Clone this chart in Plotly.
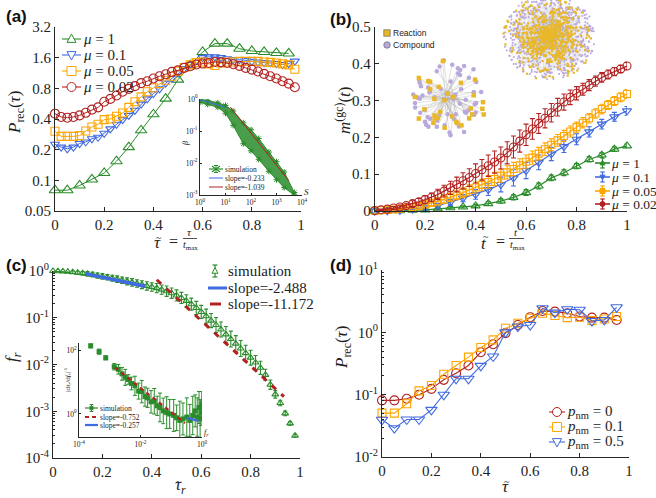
import math
import plotly.graph_objects as go

W, H = 656, 498

# ======================= DATA =======================
# ---- panel (a): P_rec(tau) for different mu
a_tau_20 = [0.0, 0.05, 0.10, 0.15, 0.20, 0.25, 0.30, 0.35, 0.40, 0.45,
            0.50, 0.55, 0.60, 0.65, 0.70, 0.75, 0.80, 0.85, 0.90, 0.95]
a_tau_40 = [0.0, 0.025, 0.05, 0.075, 0.10, 0.125, 0.15, 0.175, 0.20, 0.225,
            0.25, 0.275, 0.30, 0.325, 0.35, 0.375, 0.40, 0.425, 0.45, 0.475,
            0.50, 0.525, 0.55, 0.575, 0.60, 0.625, 0.65, 0.675, 0.70, 0.725,
            0.75, 0.775, 0.80, 0.825, 0.85, 0.875, 0.90, 0.925, 0.95, 0.975]
a_mu1 = [0.080, 0.080, 0.089, 0.102, 0.118, 0.154, 0.212, 0.310, 0.445, 0.634,
         0.973, 1.35, 1.82, 2.20, 2.20, 1.96, 1.86, 1.82, 1.78, 1.76]
a_mu01 = [0.226, 0.212, 0.204, 0.212, 0.230, 0.238, 0.256, 0.265, 0.290, 0.320,
          0.355, 0.394, 0.434, 0.487, 0.560, 0.630, 0.710, 0.790, 0.900, 1.00,
          1.13, 1.25, 1.37, 1.50, 1.60, 1.63, 1.63, 1.60, 1.56, 1.53,
          1.53, 1.50, 1.47, 1.45, 1.43, 1.42, 1.40, 1.37, 1.40, 1.48]
a_mu005 = [0.303, 0.270, 0.270, 0.270, 0.275, 0.305, 0.334, 0.355, 0.394, 0.400,
           0.425, 0.458, 0.520, 0.590, 0.660, 0.740, 0.810, 0.890, 0.960, 1.05,
           1.18, 1.28, 1.36, 1.43, 1.45, 1.39, 1.34, 1.42, 1.45, 1.45,
           1.47, 1.47, 1.47, 1.47, 1.45, 1.44, 1.42, 1.39, 1.36, 1.23]
a_mu002 = [0.451, 0.419, 0.412, 0.419, 0.434, 0.460, 0.494, 0.520, 0.590, 0.630,
           0.680, 0.740, 0.790, 0.840, 0.900, 0.940, 1.00, 1.05, 1.10, 1.16,
           1.20, 1.27, 1.32, 1.37, 1.40, 1.42, 1.45, 1.44, 1.42, 1.38,
           1.33, 1.27, 1.22, 1.17, 1.11, 1.05, 1.00, 0.94, 0.89, 0.82]
a_labels = ["<i>μ</i> = 1", "<i>μ</i> = 0.1", "<i>μ</i> = 0.05", "<i>μ</i> = 0.02"]
a_yticks = [0.05, 0.1, 0.2, 0.4, 0.8, 1.6, 3.2]
a_yticktext = ["0.05", "0.1", "0.2", "0.4", "0.8", "1.6", "3.2"]
lin_xticks = [0, 0.2, 0.4, 0.6, 0.8, 1]
lin_xticktext = ["0", "0.2", "0.4", "0.6", "0.8", "1"]

# ---- inset of (a): beta vs S
ia_S = [1, 2, 5, 10, 20, 50, 100, 200, 500, 1000, 2000, 5000]
ia_upper = [0.98, 0.90, 0.76, 0.63, 0.42, 0.18, 0.11, 0.058, 0.022, 0.011, 0.0052, 0.0012]
ia_lower = [0.78, 0.68, 0.55, 0.36, 0.15, 0.04, 0.024, 0.013, 0.0055, 0.003, 0.0017, 0.001]
ia_fit1_S = [1, 10]
ia_fit1_b = [0.95, 0.55]
ia_fit2_S = [15.5, 3040]
ia_fit2_b = [0.56, 0.0028]
ia_labels = ["simulation", "slope=-0.233", "slope=-1.039"]
ia_xticks = [1, 10, 100, 1000, 10000]
ia_xticktext = ["10<sup>0</sup>", "10<sup>1</sup>", "10<sup>2</sup>", "10<sup>3</sup>", "10<sup>4</sup>"]
ia_yticks = [0.001, 0.01, 0.1, 1]
ia_yticktext = ["10<sup>-3</sup>", "10<sup>-2</sup>", "10<sup>-1</sup>", "10<sup>0</sup>"]

# ---- panel (b): m^(gc)(t)
b_t_41 = [0.0, 0.025, 0.05, 0.075, 0.10, 0.125, 0.15, 0.175, 0.20, 0.225,
          0.25, 0.275, 0.30, 0.325, 0.35, 0.375, 0.40, 0.425, 0.45, 0.475,
          0.50, 0.525, 0.55, 0.575, 0.60, 0.625, 0.65, 0.675, 0.70, 0.725,
          0.75, 0.775, 0.80, 0.825, 0.85, 0.875, 0.90, 0.925, 0.95, 0.975, 1.0]
b_t_21 = [0.0, 0.05, 0.10, 0.15, 0.20, 0.25, 0.30, 0.35, 0.40, 0.45, 0.50,
          0.55, 0.60, 0.65, 0.70, 0.75, 0.80, 0.85, 0.90, 0.95, 1.0]
b_mu002 = [0.001, 0.003, 0.005, 0.008, 0.011, 0.015, 0.020, 0.025, 0.031, 0.037,
           0.045, 0.054, 0.063, 0.072, 0.082, 0.091, 0.102, 0.112, 0.123, 0.133,
           0.144, 0.158, 0.174, 0.190, 0.207, 0.223, 0.238, 0.252, 0.267, 0.282,
           0.296, 0.309, 0.320, 0.331, 0.342, 0.353, 0.363, 0.371, 0.379, 0.386, 0.394]
b_mu002_err = [0.001, 0.002, 0.003, 0.004, 0.005, 0.006, 0.008, 0.009, 0.011, 0.012,
               0.014, 0.016, 0.018, 0.020, 0.022, 0.024, 0.026, 0.028, 0.029, 0.030,
               0.030, 0.030, 0.030, 0.030, 0.029, 0.028, 0.027, 0.026, 0.025, 0.024,
               0.022, 0.020, 0.018, 0.016, 0.015, 0.014, 0.013, 0.012, 0.011, 0.010, 0.010]
b_mu005 = [0.001, 0.002, 0.003, 0.004, 0.006, 0.008, 0.011, 0.014, 0.018, 0.022,
           0.026, 0.031, 0.037, 0.043, 0.050, 0.057, 0.064, 0.071, 0.079, 0.087,
           0.096, 0.105, 0.114, 0.124, 0.134, 0.145, 0.156, 0.168, 0.180, 0.192,
           0.204, 0.216, 0.228, 0.240, 0.252, 0.265, 0.277, 0.288, 0.299, 0.309, 0.318]
b_mu005_err = [0.001, 0.001, 0.002, 0.002, 0.003, 0.004, 0.005, 0.006, 0.007, 0.008,
               0.009, 0.010, 0.011, 0.012, 0.013, 0.014, 0.015, 0.016, 0.017, 0.018,
               0.018, 0.018, 0.018, 0.018, 0.018, 0.018, 0.017, 0.017, 0.016, 0.016,
               0.015, 0.015, 0.014, 0.014, 0.013, 0.013, 0.013, 0.012, 0.012, 0.012, 0.012]
b_mu01 = [0.0, 0.0005, 0.002, 0.005, 0.009, 0.015, 0.024, 0.035, 0.045, 0.058, 0.072,
          0.090, 0.110, 0.132, 0.155, 0.175, 0.195, 0.215, 0.236, 0.256, 0.272]
b_mu01_err = [0.0005, 0.001, 0.002, 0.003, 0.004, 0.006, 0.008, 0.010, 0.013, 0.016, 0.020,
              0.022, 0.022, 0.020, 0.018, 0.016, 0.015, 0.014, 0.013, 0.012, 0.012]
b_mu1 = [0.0, 0.0, 0.001, 0.002, 0.003, 0.006, 0.009, 0.011, 0.014, 0.020, 0.027,
         0.037, 0.050, 0.068, 0.090, 0.104, 0.122, 0.140, 0.152, 0.168, 0.177]
b_mu1_err = [0.0005, 0.0005, 0.001, 0.001, 0.002, 0.002, 0.003, 0.003, 0.004, 0.005, 0.006,
             0.007, 0.008, 0.008, 0.008, 0.008, 0.007, 0.007, 0.006, 0.006, 0.005]
b_yticks = [0, 0.1, 0.2, 0.3, 0.4, 0.5]
b_yticktext = ["0", "0.1", "0.2", "0.3", "0.4", "0.5"]
net_labels = ["Reaction", "Compound"]

# ---- panel (c): f_r vs tau_r
c_tau = [0.00, 0.02, 0.04, 0.06, 0.08, 0.10, 0.12, 0.14, 0.16, 0.18,
         0.20, 0.22, 0.24, 0.26, 0.28, 0.30, 0.32, 0.34, 0.36, 0.38,
         0.40, 0.42, 0.44, 0.46, 0.48, 0.50, 0.52, 0.54, 0.56, 0.58,
         0.60, 0.62, 0.64, 0.66, 0.68, 0.70, 0.72, 0.74, 0.76, 0.78,
         0.80, 0.82, 0.84, 0.86, 0.88, 0.90, 0.92, 0.94, 0.96, 0.98]
c_fr = [1.0, 0.99, 0.98, 0.965, 0.945, 0.92, 0.895, 0.865, 0.835, 0.80,
        0.765, 0.735, 0.70, 0.67, 0.635, 0.60, 0.57, 0.54, 0.51, 0.48,
        0.455, 0.43, 0.40, 0.37, 0.335, 0.30, 0.265, 0.23, 0.195, 0.162,
        0.133, 0.108, 0.087, 0.070, 0.056, 0.044, 0.035, 0.028, 0.022, 0.0175,
        0.014, 0.011, 0.0085, 0.006, 0.0037, 0.0023, 0.0015, 0.0009, 0.00055, 0.0003]
c_err_dec = [0.01, 0.01, 0.015, 0.02, 0.03, 0.035, 0.04, 0.05, 0.05, 0.055,
             0.06, 0.06, 0.065, 0.07, 0.07, 0.075, 0.08, 0.08, 0.085, 0.09,
             0.09, 0.10, 0.10, 0.11, 0.11, 0.12, 0.12, 0.13, 0.13, 0.14,
             0.14, 0.15, 0.15, 0.16, 0.16, 0.17, 0.17, 0.17, 0.17, 0.17,
             0.16, 0.15, 0.14, 0.12, 0.10, 0.08, 0.06, 0.05, 0.04, 0.03]
c_fit1_x = [0.13, 0.372]
c_fit1_y = [0.877, 0.47]
c_fit2_x = [0.42, 0.935]
c_fit2_y = [0.65, 0.00206]
c_labels = ["simulation", "slope=-2.488", "slope=-11.172"]
c_yticks = [1e-4, 1e-3, 1e-2, 1e-1, 1]
c_yticktext = ["10<sup>-4</sup>", "10<sup>-3</sup>", "10<sup>-2</sup>", "10<sup>-1</sup>", "10<sup>0</sup>"]

# ---- inset of (c)
ic_fr = [2.4e-4, 4.5e-4, 7.4e-4, 1.4e-3, 1.9e-3, 2.5e-3, 3.2e-3, 4.0e-3, 5.1e-3, 6.6e-3,
         8.7e-3, 0.011, 0.014, 0.017, 0.022, 0.028, 0.035, 0.043, 0.055, 0.071,
         0.089, 0.12, 0.15, 0.19, 0.24, 0.32, 0.40, 0.50, 0.60, 0.70,
         0.80, 0.87, 0.93, 0.98]
ic_val = [135, 89, 57, 30, 25, 18, 14, 12, 9.0, 7.6,
          5.2, 5.0, 3.5, 3.2, 2.4, 2.5, 1.8, 1.6, 1.25, 1.1,
          1.0, 0.9, 0.76, 0.63, 0.70, 0.80, 0.63, 0.90, 1.25, 0.80,
          1.6, 0.70, 1.1, 2.0]
ic_err_dec = [0.06, 0.08, 0.06, 0.10, 0.15, 0.20, 0.25, 0.15, 0.20, 0.30,
              0.25, 0.35, 0.30, 0.30, 0.35, 0.40, 0.30, 0.45, 0.40, 0.50,
              0.45, 0.50, 0.40, 0.60, 0.50, 0.60, 0.50, 0.60, 0.50, 0.60,
              0.50, 0.60, 0.40, 0.40]
ic_fit1_x = [1.48e-3, 0.28]
ic_fit1_y = [28.0, 0.52]
ic_fit2_x = [0.32, 0.76]
ic_fit2_y = [0.77, 0.60]
ic_labels = ["simulation", "slope=-0.752", "slope=-0.257"]
ic_xticks = [1e-4, 1e-2, 1]
ic_xticktext = ["10<sup>-4</sup>", "10<sup>-2</sup>", "10<sup>0</sup>"]
ic_yticks = [1, 100]
ic_yticktext = ["10<sup>0</sup>", "10<sup>2</sup>"]

# ---- panel (d)
d_tau = [0.0, 0.05, 0.10, 0.15, 0.20, 0.25, 0.30, 0.35, 0.40, 0.45,
         0.50, 0.55, 0.60, 0.65, 0.70, 0.75, 0.80, 0.85, 0.90, 0.95]
d_p0 = [0.081, 0.081, 0.086, 0.0995, 0.124, 0.173, 0.221, 0.294, 0.48, 0.645,
        0.97, 1.31, 1.75, 2.2, 2.15, 2.02, 1.79, 1.72, 1.72, 1.58]
d_p01 = [0.0506, 0.0506, 0.0714, 0.115, 0.14, 0.213, 0.294, 0.40, 0.57, 0.757,
         1.16, 1.40, 1.68, 2.02, 1.86, 1.72, 1.75, 1.54, 1.64, 1.79]
d_p05 = [0.0396, 0.029, 0.040, 0.040, 0.057, 0.0995, 0.18, 0.18, 0.29, 0.41,
         1.0, 1.24, 1.31, 2.43, 2.07, 2.35, 2.30, 1.52, 1.58, 2.52]
d_labels = ["<i>p</i><sub>nm</sub> = 0", "<i>p</i><sub>nm</sub> = 0.1", "<i>p</i><sub>nm</sub> = 0.5"]
d_yticks = [0.01, 0.1, 1, 10]
d_yticktext = ["10<sup>-2</sup>", "10<sup>-1</sup>", "10<sup>0</sup>", "10<sup>1</sup>"]

# ======================= STYLE =======================
SERIF = "\"Liberation Serif\", \"Times New Roman\", serif"
SANS = "\"Liberation Sans\", Arial, sans-serif"
GREEN = "#2A8C2A"
BLUE = "#4169E1"
ORANGE = "#FFA500"
RED = "#B22222"
AX = "#262626"
TXT = "#222222"
YEL = "#E8B82A"
PUR = "#B9A8DC"

shapes = []
annotations = []


def P(x, y):
    return x / W, 1 - y / H


def add_line(x0, y0, x1, y1, color, width=1.0, dash="solid"):
    a, b = P(x0, y0)
    c, d = P(x1, y1)
    shapes.append(dict(type="line", xref="paper", yref="paper", x0=a, y0=b, x1=c, y1=d,
                       line=dict(color=color, width=width, dash=dash)))


def add_marker(sym, xc, yc, s, color, fill="white", lw=1.0):
    h = s / 2
    if sym in ("circle", "square"):
        a, b = P(xc - h, yc + h)
        c, d = P(xc + h, yc - h)
        shapes.append(dict(type="circle" if sym == "circle" else "rect", xref="paper", yref="paper",
                           x0=a, y0=b, x1=c, y1=d, line=dict(color=color, width=lw), fillcolor=fill))
    else:
        if sym == "up":
            pts = [(xc, yc - h * 1.1), (xc + h, yc + h * 0.75), (xc - h, yc + h * 0.75)]
        else:
            pts = [(xc, yc + h * 1.1), (xc + h, yc - h * 0.75), (xc - h, yc - h * 0.75)]
        path = "M " + " L ".join("%.5f,%.5f" % P(x, y) for x, y in pts) + " Z"
        shapes.append(dict(type="path", xref="paper", yref="paper", path=path,
                           line=dict(color=color, width=lw), fillcolor=fill))


def add_errbar(xc, yc, half, cap, color, lw=1.0):
    add_line(xc, yc - half, xc, yc + half, color, lw)
    add_line(xc - cap, yc - half, xc + cap, yc - half, color, lw)
    add_line(xc - cap, yc + half, xc + cap, yc + half, color, lw)


def add_text(x, y, text, size, family=SERIF, xanchor="left", yanchor="middle", angle=0, color=TXT):
    a, b = P(x, y)
    annotations.append(dict(x=a, y=b, xref="paper", yref="paper", text=text, showarrow=False,
                            xanchor=xanchor, yanchor=yanchor, textangle=angle, borderpad=0,
                            font=dict(family=family, size=size, color=color)))


def add_tilde(x, y, size=10):
    add_text(x, y, "~", size, xanchor="center")


def ax(domain, anchor, **kw):
    d = dict(domain=domain, anchor=anchor, showline=True, linecolor=AX, linewidth=1,
             ticks="inside", ticklen=4, tickcolor=AX, tickwidth=1, showgrid=False,
             zeroline=False, mirror=False, automargin=False,
             tickfont=dict(family=SERIF, size=15, color=TXT))
    d.update(kw)
    return d


def hid(domain, anchor, rng):
    return dict(domain=domain, anchor=anchor, range=rng, visible=False, automargin=False,
                showgrid=False, zeroline=False)


def dom_x(x0, x1):
    return [x0 / W, x1 / W]


def dom_y(ytop, ybot):
    return [1 - ybot / H, 1 - ytop / H]


def hsh(i, k):
    v = math.sin(i * 12.9898 + k * 78.233) * 43758.5453
    return v - math.floor(v)


traces = []

# ======================= decorative network pictures (panel b) =======================
# small hub-and-spoke network
n_small = 96
sx, sy = [], []
for i in range(n_small):
    u, v = hsh(i, 1), hsh(i, 2)
    r = 7 * math.sqrt(u) if i < 8 else 11 + 27 * u ** 0.7
    th = 2 * math.pi * v
    sx.append(r * math.cos(th))
    sy.append(r * math.sin(th))
ex, ey = [], []
for i in range(1, n_small):
    p = i % 8 if i >= 8 else 0
    ex += [sx[i], sx[p], None]
    ey += [sy[i], sy[p], None]
traces.append(go.Scatter(x=ex, y=ey, mode="lines", line=dict(color="rgba(175,175,175,0.75)", width=0.5),
                         xaxis="x4", yaxis="y4", hoverinfo="skip"))
yi = [i for i in range(n_small) if i % 3 == 0]
pi = [i for i in range(n_small) if i % 3 != 0]
traces.append(go.Scatter(x=[sx[i] for i in pi], y=[sy[i] for i in pi], mode="markers",
                         marker=dict(symbol="circle", size=4.5, color=PUR, line=dict(width=0)),
                         xaxis="x4", yaxis="y4", hoverinfo="skip"))
traces.append(go.Scatter(x=[sx[i] for i in yi], y=[sy[i] for i in yi], mode="markers",
                         marker=dict(symbol="square", size=4.5, color=YEL, line=dict(width=0)),
                         xaxis="x4", yaxis="y4", hoverinfo="skip"))

# dense "hairball" network
n_big = 1300
hx, hy, hu = [], [], []
for i in range(n_big):
    u, v = hsh(i, 3), hsh(i, 4)
    r = u ** 0.85
    th = 2 * math.pi * v
    hx.append(46 * r * math.cos(th))
    hy.append(43 * r * math.sin(th))
    hu.append(u)
ex, ey = [], []
for i in range(1, n_big, 2):
    p = int(i * 0.31)
    ex += [hx[i], hx[p], None]
    ey += [hy[i], hy[p], None]
traces.append(go.Scatter(x=ex, y=ey, mode="lines", line=dict(color="rgba(160,160,180,0.22)", width=0.4),
                         xaxis="x5", yaxis="y5", hoverinfo="skip"))
hy_idx = [i for i in range(n_big) if (hu[i] < 0.55 and i % 4 != 3) or (hu[i] >= 0.55 and i % 4 == 0)]
hy_set = set(hy_idx)
hp_idx = [i for i in range(n_big) if i not in hy_set]
traces.append(go.Scatter(x=[hx[i] for i in hp_idx], y=[hy[i] for i in hp_idx], mode="markers",
                         marker=dict(size=2.0, color=PUR, line=dict(width=0)),
                         xaxis="x5", yaxis="y5", hoverinfo="skip"))
traces.append(go.Scatter(x=[hx[i] for i in hy_idx], y=[hy[i] for i in hy_idx], mode="markers",
                         marker=dict(symbol="square", size=2.2, color=YEL, line=dict(width=0)),
                         xaxis="x5", yaxis="y5", hoverinfo="skip"))

# ======================= panel (a) =======================
for xs, ys, col, sym, sz in [(a_tau_20, a_mu1, GREEN, "triangle-up-open", 10),
                             (a_tau_40, a_mu01, BLUE, "triangle-down-open", 8),
                             (a_tau_40, a_mu005, ORANGE, "square-open", 8),
                             (a_tau_40, a_mu002, RED, "circle-open", 9)]:
    traces.append(go.Scatter(x=xs, y=ys, mode="lines+markers", line=dict(color=col, width=1),
                             marker=dict(symbol=sym, size=sz, color=col, line=dict(width=1.1)),
                             xaxis="x", yaxis="y", cliponaxis=False))

# inset (a)
traces.append(go.Scatter(x=ia_S + ia_S[::-1], y=ia_upper + ia_lower[::-1], mode="lines", fill="toself",
                         fillcolor="rgba(42,140,42,0.85)", line=dict(color=GREEN, width=1), xaxis="x2", yaxis="y2"))
traces.append(go.Scatter(x=ia_S + ia_S, y=ia_upper + ia_lower, mode="markers",
                         marker=dict(symbol="asterisk-open", size=5, color=GREEN, line=dict(width=1, color=GREEN)),
                         xaxis="x2", yaxis="y2"))
traces.append(go.Scatter(x=ia_fit1_S, y=ia_fit1_b, mode="lines", line=dict(color=BLUE, width=1),
                         xaxis="x2", yaxis="y2"))
traces.append(go.Scatter(x=ia_fit2_S, y=ia_fit2_b, mode="lines", line=dict(color=RED, width=1),
                         xaxis="x2", yaxis="y2"))

# ======================= panel (b) =======================
for xs, ys, es, col, sym, sz in [(b_t_21, b_mu1, b_mu1_err, GREEN, "triangle-up-open", 8),
                                 (b_t_21, b_mu01, b_mu01_err, BLUE, "triangle-down-open", 8),
                                 (b_t_41, b_mu005, b_mu005_err, ORANGE, "square-open", 7),
                                 (b_t_41, b_mu002, b_mu002_err, RED, "circle-open", 8)]:
    traces.append(go.Scatter(x=xs, y=ys, mode="lines+markers", line=dict(color=col, width=1.2),
                             marker=dict(symbol=sym, size=sz, color=col, line=dict(width=1.1)),
                             error_y=dict(type="data", array=es, color=col, thickness=1.1, width=2.5),
                             xaxis="x3", yaxis="y3", cliponaxis=False))

# ======================= panel (c) =======================
c_ep = [v * (10 ** e - 1) for v, e in zip(c_fr, c_err_dec)]
c_em = [v * (1 - 10 ** -e) for v, e in zip(c_fr, c_err_dec)]
traces.append(go.Scatter(x=c_tau, y=c_fr, mode="markers",
                         marker=dict(symbol="triangle-up-open", size=6, color=GREEN, line=dict(width=1.1)),
                         error_y=dict(type="data", array=c_ep, arrayminus=c_em, color=GREEN, thickness=1.1, width=2),
                         xaxis="x6", yaxis="y6", cliponaxis=False))
traces.append(go.Scatter(x=c_fit1_x, y=c_fit1_y, mode="lines", line=dict(color=BLUE, width=3.5),
                         xaxis="x6", yaxis="y6"))
traces.append(go.Scatter(x=c_fit2_x, y=c_fit2_y, mode="lines", line=dict(color=RED, width=3, dash="6px,7px"),
                         xaxis="x6", yaxis="y6"))

# inset (c)
ic_ep = [v * (10 ** e - 1) for v, e in zip(ic_val, ic_err_dec)]
ic_em = [v * (1 - 10 ** -e) for v, e in zip(ic_val, ic_err_dec)]
traces.append(go.Scatter(x=ic_fr, y=ic_val, mode="markers",
                         marker=dict(symbol="square", size=5, color=GREEN, line=dict(width=0)),
                         error_y=dict(type="data", array=ic_ep, arrayminus=ic_em, color=GREEN, thickness=1, width=2),
                         xaxis="x7", yaxis="y7"))
traces.append(go.Scatter(x=ic_fit1_x, y=ic_fit1_y, mode="lines", line=dict(color=RED, width=2.2, dash="4px,4px"),
                         xaxis="x7", yaxis="y7"))
traces.append(go.Scatter(x=ic_fit2_x, y=ic_fit2_y, mode="lines", line=dict(color=BLUE, width=2.2),
                         xaxis="x7", yaxis="y7"))

# ======================= panel (d) =======================
for ys, col, sym, sz in [(d_p0, RED, "circle-open", 9), (d_p01, ORANGE, "square-open", 8),
                         (d_p05, BLUE, "triangle-down-open", 10)]:
    traces.append(go.Scatter(x=d_tau, y=ys, mode="lines+markers", line=dict(color=col, width=1.1),
                             marker=dict(symbol=sym, size=sz, color=col, line=dict(width=1.1)),
                             xaxis="x8", yaxis="y8", cliponaxis=False))

# ======================= legends (drawn) =======================
# (a)
for (yy, col, sym), lab in zip([(39, GREEN, "up"), (55, BLUE, "down"), (71, ORANGE, "square"), (87, RED, "circle")], a_labels):
    add_line(62, yy, 81, yy, col, 1.1)
    add_marker(sym, 71.5, yy, 9, col)
    add_text(82, yy, lab, 15)
# (a) inset legend
add_line(209, 169, 223, 169, GREEN, 1.2)
add_errbar(216, 169, 3.5, 2, GREEN)
add_line(212, 166, 220, 172, GREEN, 1.2)
add_line(212, 172, 220, 166, GREEN, 1.2)
add_line(209, 178, 223, 178, BLUE, 1)
add_line(209, 187, 223, 187, RED, 1)
for yy, lab in zip([169, 178, 187], ia_labels):
    add_text(224, yy, lab, 7.5)
# (b)
for (yy, col, sym), lab in zip([(163, GREEN, "up"), (177, BLUE, "down"), (191, ORANGE, "square"), (204, RED, "circle")], a_labels):
    add_line(595, yy, 610, yy, col, 1.6)
    add_errbar(602.5, yy, 5, 2.2, col, 1.2)
    add_marker(sym, 602.5, yy, 5, col, fill=col)
    add_text(610, yy, lab, 13.5)
# network legend
add_marker("square", 387, 33, 6.5, "#555555", fill=YEL, lw=0.6)
add_marker("circle", 387, 45, 6.5, "#555555", fill=PUR, lw=0.6)
add_text(392, 33, net_labels[0], 8.5, family=SANS)
add_text(392, 45, net_labels[1], 8.5, family=SANS)
# (c)
add_errbar(215, 271, 6, 2.5, GREEN, 1.2)
add_marker("up", 215, 271, 6, GREEN)
add_line(208, 288, 227, 288, BLUE, 3)
add_line(210, 304, 221, 304, RED, 3)
for yy, lab in zip([271, 288, 304], c_labels):
    add_text(227, yy, lab, 15)
# (c) inset legend
add_line(85, 408, 98, 408, GREEN, 1.2)
add_errbar(91.5, 408, 3.5, 1.8, GREEN)
add_marker("square", 91.5, 408, 3.5, GREEN, fill=GREEN, lw=0.5)
add_line(85, 417, 98, 417, RED, 2.2, dash="4px,3px")
add_line(85, 425, 98, 425, BLUE, 2.2)
for yy, lab in zip([408, 417, 425], ic_labels):
    add_text(99, yy, lab, 7.5)
# (d)
for (yy, col, sym), lab in zip([(412, RED, "circle"), (427, ORANGE, "square"), (442, BLUE, "down")], d_labels):
    add_line(549, yy, 565, yy, col, 1.1)
    add_marker(sym, 557, yy, 9, col)
    add_text(566, yy, lab, 15)

# ======================= axis titles / labels =======================
add_text(16, 113, "<i>P</i><sub>rec</sub>(<i>τ</i>)", 17, xanchor="center", angle=-90)
add_text(157, 242, "<i>τ</i>", 17, xanchor="center")
add_tilde(158.5, 238)
add_text(173, 241, "=", 16, xanchor="center")
add_text(189.5, 232, "<i>τ</i>", 11, xanchor="center")
add_line(183, 238.5, 197, 238.5, TXT, 0.8)
add_text(190, 245.5, "<i>t</i><sub>max</sub>", 10, xanchor="center")

add_text(343, 110, "<i>m</i><sup>(gc)</sup>(<i>t</i>)", 17, xanchor="center", angle=-90)
add_text(484, 243, "<i>t</i>", 17, xanchor="center")
add_tilde(485.5, 236)
add_text(500, 241, "=", 16, xanchor="center")
add_text(516, 232, "<i>t</i>", 11, xanchor="center")
add_line(509, 238.5, 524, 238.5, TXT, 0.8)
add_text(517, 245.5, "<i>t</i><sub>max</sub>", 10, xanchor="center")

add_text(13, 357, "<i>f<sub>r</sub></i>", 17, xanchor="center", angle=-90)
add_text(180, 486, "<i>τ<sub>r</sub></i>", 17, xanchor="center")
add_tilde(178.5, 481)

add_text(343, 348, "<i>P</i><sub>rec</sub>(<i>τ</i>)", 17, xanchor="center", angle=-90)
add_text(505, 486, "<i>τ</i>", 17, xanchor="center")
add_tilde(506.5, 481)

# inset labels
add_text(185, 143, "<i>β</i>", 8, xanchor="center", angle=-90)
add_text(303, 192, "<i>S</i>", 9, xanchor="left")
add_text(203, 433, "<i>f<sub>r</sub></i>", 8, xanchor="left")
add_text(67, 380, "|d<i>τ<sub>r</sub></i>/d<i>f<sub>r</sub></i>|<sup>-1</sup>", 7, xanchor="center", angle=-90)

# panel letters
for xx, yy, t in [(5, 17, "(a)"), (329, 19, "(b)"), (5, 265, "(c)"), (329, 265, "(d)")]:
    add_text(xx, yy, "<b>%s</b>" % t, 17, family=SANS, xanchor="left", color="#111111")

# ======================= layout =======================
small_font = dict(family=SERIF, size=7.5, color=TXT)
minor_c = [m * 10 ** e for e in range(-4, 0) for m in range(2, 10)]
minor_d = [m * 10 ** e for e in range(-2, 1) for m in range(2, 10)]

layout = dict(
    template="none",
    width=W, height=H, autosize=False,
    margin=dict(l=0, r=0, t=0, b=0, pad=0, autoexpand=False),
    paper_bgcolor="white", plot_bgcolor="rgba(0,0,0,0)", showlegend=False,
    font=dict(family=SERIF, color=TXT),
    shapes=shapes, annotations=annotations,
    # (a)
    xaxis=ax(dom_x(55, 301), "y", range=[0, 1], tickvals=lin_xticks, ticktext=lin_xticktext),
    yaxis=ax(dom_y(27, 211), "x", type="log", range=[math.log10(0.05), math.log10(3.2)],
             tickvals=a_yticks, ticktext=a_yticktext),
    # inset (a)
    xaxis2=ax(dom_x(200, 302), "y2", type="log", range=[0, 4], tickvals=ia_xticks, ticktext=ia_xticktext,
              tickfont=small_font, ticklen=2),
    yaxis2=ax(dom_y(99, 195), "x2", type="log", range=[-3, 0], tickvals=ia_yticks, ticktext=ia_yticktext,
              tickfont=small_font, ticklen=2),
    # (b)
    xaxis3=ax(dom_x(374.7, 627), "y3", range=[0, 1], tickvals=lin_xticks, ticktext=lin_xticktext),
    yaxis3=ax(dom_y(27, 211), "x3", range=[0, 0.5], tickvals=b_yticks, ticktext=b_yticktext),
    # network pictures
    xaxis4=hid(dom_x(395, 505), "y4", [-55, 55]),
    yaxis4=hid(dom_y(45, 150), "x4", [-52.5, 52.5]),
    xaxis5=hid(dom_x(500, 600), "y5", [-49, 51]),
    yaxis5=hid(dom_y(0, 82), "x5", [-45, 37]),
    # (c)
    xaxis6=ax(dom_x(53, 300), "y6", range=[0, 1], tickvals=lin_xticks, ticktext=lin_xticktext),
    yaxis6=ax(dom_y(271, 458), "x6", type="log", range=[-4, 0], tickvals=c_yticks, ticktext=c_yticktext,
              minor=dict(tickvals=minor_c, ticks="inside", ticklen=2, tickcolor=AX)),
    # inset (c)
    xaxis7=ax(dom_x(79, 202), "y7", type="log", range=[-4, 0], tickvals=ic_xticks, ticktext=ic_xticktext,
              tickfont=small_font, ticklen=2),
    yaxis7=ax(dom_y(343, 437), "x7", type="log", range=[-0.72, 2.22], tickvals=ic_yticks, ticktext=ic_yticktext,
              tickfont=small_font, ticklen=2),
    # (d)
    xaxis8=ax(dom_x(382, 629), "y8", range=[0, 1], tickvals=lin_xticks, ticktext=lin_xticktext),
    yaxis8=ax(dom_y(270, 457), "x8", type="log", range=[-2, 1], tickvals=d_yticks, ticktext=d_yticktext,
              minor=dict(tickvals=minor_d, ticks="inside", ticklen=2, tickcolor=AX)),
)

fig = go.Figure(data=traces, layout=layout)
fig.write_html("out.html", config={"displayModeBar": False},
               post_script="document.body.style.margin='0px';document.body.style.padding='0px';")
